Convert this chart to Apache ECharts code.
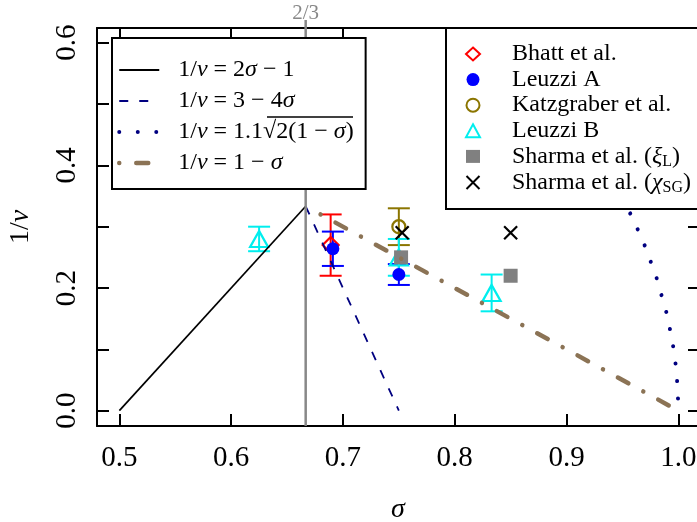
<!DOCTYPE html>
<html>
<head>
<meta charset="utf-8">
<script src="https://cdn.jsdelivr.net/npm/echarts@6/dist/echarts.min.js"></script>
<style>
  html, body { margin: 0; padding: 0; background: #fff; }
  #chart { width: 697px; height: 522px; }
</style>
</head>
<body>
<div id="chart"></div>
<script>
// axis ticks
var xTicks = [0.5, 0.6, 0.7, 0.8, 0.9, 1.0];
var yTicks = [0.0, 0.1, 0.2, 0.3, 0.4, 0.5, 0.6];
var yLabels = [0.0, 0.2, 0.4, 0.6];
var sigmaC = 2 / 3;

// theory curves (sigma, 1/nu)
var lineA = [[0.5, 0.0], [0.6667, 0.3333]];
var lineB = [[0.6667, 0.3333], [0.75, 0.0]];
var lineC = [[0.90, 0.492], [0.92, 0.440], [0.94, 0.381], [0.96, 0.311], [0.97, 0.269],
             [0.98, 0.220], [0.99, 0.156], [0.995, 0.110], [0.998, 0.070], [0.9995, 0.035], [1.0, 0.0]];
var lineD = [[0.68, 0.32], [1.0, 0.0]];

// measurements
var bhattX = [0.689], bhattY = [0.270], bhattErr = [0.050];
var leuzziAX = [0.691, 0.750], leuzziAY = [0.264, 0.222], leuzziAErr = [0.028, 0.017];
var katzX = [0.750], katzY = [0.300], katzErr = [0.030];
var leuzziBX = [0.625, 0.750, 0.833], leuzziBY = [0.280, 0.250, 0.192], leuzziBErr = [0.020, 0.030, 0.030];
var sharmaXiX = [0.752, 0.850], sharmaXiY = [0.250, 0.220];
var sharmaChiX = [0.753, 0.850], sharmaChiY = [0.290, 0.290];

var FONT = 'Liberation Serif';
var crossPath = 'path://M0,0L10,10M10,0L0,10';

function pts(xs, ys) { return xs.map(function (x, i) { return [x, ys[i]]; }); }

function errBars(name, xs, ys, errs, color) {
  return {
    type: 'custom', name: name, silent: true,
    data: xs.map(function (x, i) { return [x, ys[i] - errs[i], ys[i] + errs[i]]; }),
    encode: { x: 0, y: [1, 2] },
    renderItem: function (params, api) {
      var lo = api.coord([api.value(0), api.value(1)]);
      var hi = api.coord([api.value(0), api.value(2)]);
      var w = 11, st = { stroke: color, lineWidth: 2 };
      return { type: 'group', children: [
        { type: 'line', shape: { x1: lo[0], y1: lo[1], x2: hi[0], y2: hi[1] }, style: st },
        { type: 'line', shape: { x1: lo[0] - w, y1: lo[1], x2: lo[0] + w, y2: lo[1] }, style: st },
        { type: 'line', shape: { x1: hi[0] - w, y1: hi[1], x2: hi[0] + w, y2: hi[1] }, style: st }
      ] };
    }
  };
}

var richMath = {
  n: { fontFamily: FONT, fontSize: 24, color: '#000' },
  i: { fontFamily: FONT, fontSize: 24, fontStyle: 'italic', color: '#000' },
  sp: { width: 14 }
};
var richLeg = {
  n: { fontFamily: FONT, fontSize: 24, color: '#000' },
  i: { fontFamily: FONT, fontSize: 24, fontStyle: 'italic', color: '#000' },
  s: { fontFamily: FONT, fontSize: 16, color: '#000', padding: [10, 0, 0, 0] },
  sp: { width: 27 }
};
var mathText = {
  '1/ν = 2σ − 1': '{sp| }{n|1/}{i|ν}{n| = 2}{i|σ}{n| − 1}',
  '1/ν = 3 − 4σ': '{sp| }{n|1/}{i|ν}{n| = 3 − 4}{i|σ}',
  '1/ν = 1.1√(2(1 − σ))': '{sp| }{n|1/}{i|ν}{n| = 1.1√2(1 − }{i|σ}{n|)}',
  '1/ν = 1 − σ': '{sp| }{n|1/}{i|ν}{n| = 1 − }{i|σ}'
};
var legText = {
  'Bhatt et al.': '{sp| }{n|Bhatt et al.}',
  'Leuzzi A': '{sp| }{n|Leuzzi A}',
  'Katzgraber et al.': '{sp| }{n|Katzgraber et al.}',
  'Leuzzi B': '{sp| }{n|Leuzzi B}',
  'Sharma et al. (ξL)': '{sp| }{n|Sharma et al. (}{i|ξ}{s|L}{n|)}',
  'Sharma et al. (χSG)': '{sp| }{n|Sharma et al. (}{i|χ}{s|SG}{n|)}'
};

var chart = echarts.init(document.getElementById('chart'));
var xRange = { min: 0.48, max: 1.0185 };
var yRange = { min: -0.025, max: 0.624 };
var noSym = { color: 'rgba(0,0,0,0)', borderWidth: 0 };

var option = {
  animation: false,
  backgroundColor: '#fff',
  grid: { left: 97, right: -2, top: 28, bottom: 96, outerBoundsMode: 'none', containLabel: false },
  xAxis: [
    {
      type: 'value', position: 'bottom', min: xRange.min, max: xRange.max,
      name: 'σ', nameLocation: 'middle', nameGap: 70,
      nameTextStyle: { fontFamily: FONT, fontSize: 28, fontStyle: 'italic', color: '#000' },
      axisLine: { show: true, onZero: false, lineStyle: { color: '#000', width: 2 } },
      axisTick: { show: true, inside: true, length: 12, customValues: xTicks, lineStyle: { color: '#000', width: 2 } },
      axisLabel: { customValues: xTicks, margin: 18, fontFamily: FONT, fontSize: 29, color: '#000',
        formatter: function (v) { return v.toFixed(1); } },
      splitLine: { show: false }
    },
    {
      type: 'value', position: 'top', min: xRange.min, max: xRange.max,
      axisLine: { show: true, onZero: false, lineStyle: { color: '#000', width: 2 } },
      axisTick: { show: true, inside: true, length: 12, customValues: xTicks, lineStyle: { color: '#000', width: 2 } },
      axisLabel: { customValues: [sigmaC], margin: 4, fontFamily: FONT, fontSize: 21, color: '#888',
        formatter: function () { return '2/3'; } },
      splitLine: { show: false }
    }
  ],
  yAxis: [
    {
      type: 'value', position: 'left', min: yRange.min, max: yRange.max,
      name: '{n|1/}{i|ν}', nameLocation: 'middle', nameGap: 62,
      nameTextStyle: { rich: {
        n: { fontFamily: FONT, fontSize: 28, color: '#000' },
        i: { fontFamily: FONT, fontSize: 28, fontStyle: 'italic', color: '#000' } } },
      axisLine: { show: true, onZero: false, lineStyle: { color: '#000', width: 2 } },
      axisTick: { show: true, inside: true, length: 12, customValues: yTicks, lineStyle: { color: '#000', width: 2 } },
      axisLabel: { customValues: yLabels, rotate: 90, margin: 15, fontFamily: FONT, fontSize: 29, color: '#000',
        formatter: function (v) { return v.toFixed(1); } },
      splitLine: { show: false }
    },
    {
      type: 'value', position: 'right', min: yRange.min, max: yRange.max,
      axisLine: { show: true, onZero: false, lineStyle: { color: '#000', width: 2 } },
      axisTick: { show: true, inside: true, length: 11, customValues: yTicks, lineStyle: { color: '#000', width: 2 } },
      axisLabel: { show: false },
      splitLine: { show: false }
    }
  ],
  legend: [
    {
      orient: 'vertical', left: 112, top: 38, itemWidth: 40, itemHeight: 14, itemGap: 5,
      padding: [19, 12, 13, 5],
      backgroundColor: '#fff', borderColor: '#000', borderWidth: 2, borderRadius: 0,
      selectedMode: false,
      data: [
        { name: '1/ν = 2σ − 1', itemStyle: noSym },
        { name: '1/ν = 3 − 4σ', itemStyle: noSym },
        { name: '1/ν = 1.1√(2(1 − σ))', itemStyle: noSym,
          lineStyle: { color: '#000080', width: 4, type: [0.01, 18.5], cap: 'round' } },
        { name: '1/ν = 1 − σ', itemStyle: noSym,
          lineStyle: { color: '#8b7355', width: 4.5, type: [0.01, 17, 12, 17], cap: 'round' } }
      ],
      formatter: function (name) { return mathText[name]; },
      textStyle: { lineHeight: 26, rich: richMath }
    },
    {
      orient: 'vertical', left: 446, top: 28, itemWidth: 14, itemHeight: 13, itemGap: 0.6,
      padding: [13.5, 20, 13.5, 19],
      backgroundColor: '#fff', borderColor: '#000', borderWidth: 2, borderRadius: 0,
      selectedMode: false,
      data: [
        { name: 'Bhatt et al.', icon: 'diamond', itemStyle: { color: '#fff', borderColor: '#ff0000', borderWidth: 2 } },
        { name: 'Leuzzi A', icon: 'circle', itemStyle: { color: '#0000ff', borderWidth: 0 } },
        { name: 'Katzgraber et al.', icon: 'circle', itemStyle: { color: '#fff', borderColor: '#8b7500', borderWidth: 2 } },
        { name: 'Leuzzi B', icon: 'triangle', itemStyle: { color: '#fff', borderColor: '#00eeee', borderWidth: 2 } },
        { name: 'Sharma et al. (ξL)', icon: 'rect', itemStyle: { color: '#808080', borderWidth: 0 } },
        { name: 'Sharma et al. (χSG)', icon: crossPath, itemStyle: { color: 'rgba(0,0,0,0)', borderColor: '#000', borderWidth: 2 } }
      ],
      formatter: function (name) { return legText[name]; },
      textStyle: { lineHeight: 25, rich: richLeg }
    }
  ],
  graphic: [
    // overline of the square root in the legend
    { type: 'line', z: 10, shape: { x1: 267, y1: 117, x2: 353, y2: 117 }, style: { stroke: '#000', lineWidth: 1.3 } }
  ],
  series: [
    { type: 'line', name: '1/ν = 2σ − 1', data: lineA, symbol: 'none', silent: true,
      itemStyle: { color: '#000' }, lineStyle: { color: '#000', width: 1.7 } },
    { type: 'line', name: '1/ν = 3 − 4σ', data: lineB, symbol: 'none', silent: true,
      itemStyle: { color: '#000080' }, lineStyle: { color: '#000080', width: 1.8, type: [9, 11] } },
    { type: 'line', name: '1/ν = 1.1√(2(1 − σ))', data: lineC, symbol: 'none', silent: true,
      itemStyle: { color: '#000080' }, lineStyle: { color: '#000080', width: 4, type: [0.01, 17.5], cap: 'round' } },
    { type: 'line', name: '1/ν = 1 − σ', data: lineD, symbol: 'none', silent: true,
      itemStyle: { color: '#8b7355' }, lineStyle: { color: '#8b7355', width: 4.5, type: [0.01, 17, 12, 17], cap: 'round' } },
    { type: 'line', name: 'sigma_c', data: [[sigmaC, yRange.min], [sigmaC, 0.637]], symbol: 'none', silent: true,
      clip: false, lineStyle: { color: '#888', width: 2.5 } },

    errBars('Bhatt err', bhattX, bhattY, bhattErr, '#ff0000'),
    { type: 'scatter', name: 'Bhatt et al.', data: pts(bhattX, bhattY), symbol: 'diamond', symbolSize: 16,
      itemStyle: { color: 'rgba(255,255,255,0)', borderColor: '#ff0000', borderWidth: 2.2, opacity: 1 } },
    errBars('Leuzzi A err', leuzziAX, leuzziAY, leuzziAErr, '#0000ff'),
    { type: 'scatter', name: 'Leuzzi A', data: pts(leuzziAX, leuzziAY), symbol: 'circle', symbolSize: 13,
      itemStyle: { color: '#0000ff', opacity: 1 } },
    errBars('Katz err', katzX, katzY, katzErr, '#8b7500'),
    { type: 'scatter', name: 'Katzgraber et al.', data: pts(katzX, katzY), symbol: 'circle', symbolSize: 13,
      itemStyle: { color: 'rgba(255,255,255,0)', borderColor: '#8b7500', borderWidth: 2.2, opacity: 1 } },
    errBars('Leuzzi B err', leuzziBX, leuzziBY, leuzziBErr, '#00eeee'),
    { type: 'scatter', name: 'Leuzzi B', data: pts(leuzziBX, leuzziBY), symbol: 'triangle', symbolSize: [18, 16],
      itemStyle: { color: 'rgba(255,255,255,0)', borderColor: '#00eeee', borderWidth: 2.2, opacity: 1 } },
    { type: 'scatter', name: 'Sharma et al. (ξL)', data: pts(sharmaXiX, sharmaXiY), symbol: 'rect', symbolSize: 14,
      itemStyle: { color: '#808080', opacity: 1 } },
    { type: 'scatter', name: 'Sharma et al. (χSG)', data: pts(sharmaChiX, sharmaChiY), symbol: crossPath, symbolSize: 13,
      itemStyle: { color: 'rgba(0,0,0,0)', borderColor: '#000', borderWidth: 2.2, opacity: 1 } }
  ]
};
chart.setOption(option);
window.onresize = function () { chart.resize(); };
</script>
</body>
</html>
